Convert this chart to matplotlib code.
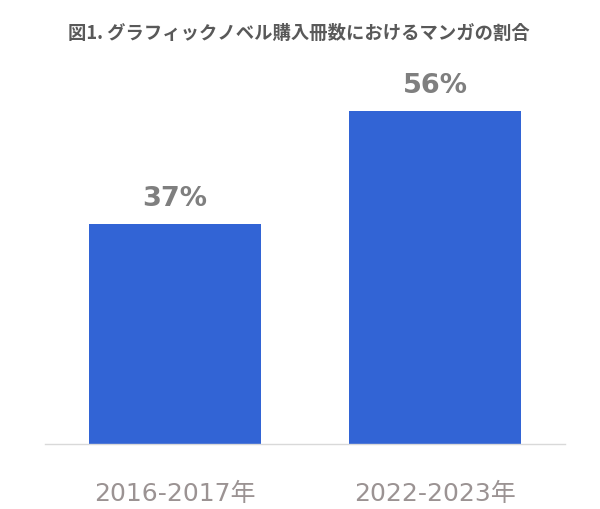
import matplotlib
matplotlib.use("Agg")
import matplotlib.pyplot as plt

categories = ["2016-2017年", "2022-2023年"]
values = [37, 56]
labels = ["37%", "56%"]
title = "図1. グラフィックノベル購入冊数におけるマンガの割合"

plt.rcParams['font.family'] = ['DejaVu Sans', 'Noto Sans CJK JP']

fig = plt.figure(figsize=(6.0, 5.09), dpi=100)
ax = fig.add_axes([45/600, 65/509, 520/600, 384/509])

x = list(range(len(categories)))
ax.bar(x, values, width=0.665, color='#3264D5', zorder=2)
ax.set_xlim(-0.5, 1.5)
ax.set_ylim(0, 64.5)

for xi, v, lab in zip(x, values, labels):
    ax.annotate(lab, (xi, v), xytext=(0, 13), textcoords='offset points',
                ha='center', va='baseline', fontsize=19.5, fontweight='bold',
                color='#7f7f7f')

ax.set_xticks(x)
ax.set_xticklabels(categories, fontsize=18, color='#9b9393')
ax.tick_params(axis='x', length=0, pad=27.5)
ax.set_yticks([])
for s in ['top', 'right', 'left']:
    ax.spines[s].set_visible(False)
ax.spines['bottom'].set_color('#d9d9d9')
ax.spines['bottom'].set_linewidth(1.0)

fig.text(299/600, 1 - 33/509, title, ha='center', va='center',
         fontsize=13.2, fontweight='bold', color='#595959',
         family=['Noto Sans CJK JP', 'DejaVu Sans'])

fig.savefig('out.png', dpi=100, facecolor='white')
